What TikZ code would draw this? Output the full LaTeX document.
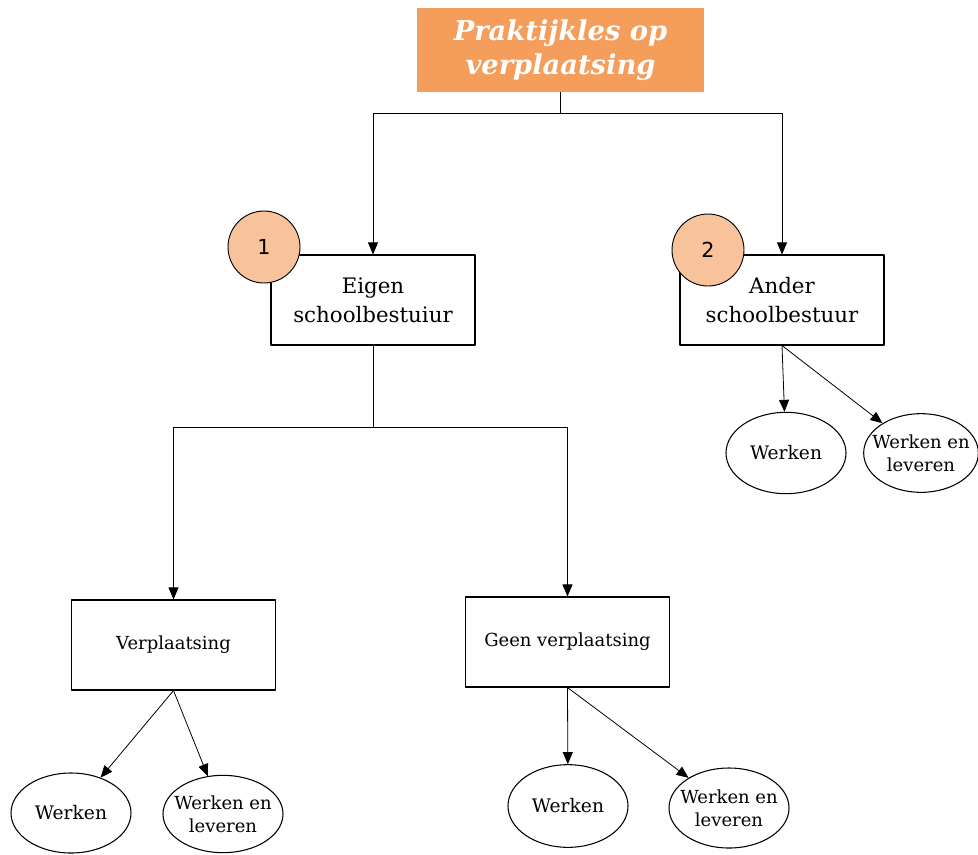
\documentclass[tikz,border=0pt]{standalone}
\usepackage{fontspec}
\setmainfont{DejaVu Serif}
\newfontfamily\badgefont{DejaVu Sans}
\usepackage{xcolor}
\usetikzlibrary{arrows.meta,shapes.geometric}
\definecolor{titleorange}{HTML}{F59E5B}
\definecolor{badgeorange}{HTML}{F8C39B}
\tikzset{
  box/.style={draw,line width=0.8pt,minimum width=153pt,minimum height=67.5pt,inner sep=0pt,align=center},
  oval/.style={ellipse,draw,line width=0.8pt,minimum width=90pt,minimum height=61pt,inner sep=0pt,align=center,font=\fontsize{14}{17}\selectfont},
  ovaltwo/.style={oval,inner xsep=-8pt,inner ysep=-6pt,font=\fontsize{13.5}{17}\selectfont},
  badge/.style={circle,draw,line width=0.7pt,fill=badgeorange,minimum size=54pt,inner sep=0pt,font=\badgefont\fontsize{15.5}{16}\selectfont}
}
\begin{document}
\begin{tikzpicture}
			[line cap=round,line join=round,>={Triangle[length=9pt,width=7.5pt]},x=0.75pt,y=-0.75pt]
			\useasboundingbox (0,0) rectangle (978,854);
			% title
			\node[fill=titleorange,minimum width=215pt,minimum height=63pt,inner sep=0pt,align=center,text=white,font=\bfseries\itshape\fontsize{20.5}{25.5}\selectfont] (title) at (560.5,50) {Praktijkles op\\verplaatsing};
			% second level
			\node[box,font=\fontsize{16}{22}\selectfont] (eigen) at (373,300) {Eigen\\schoolbestuiur};
			\node[box,font=\fontsize{16}{22}\selectfont] (ander) at (782,300) {Ander\\schoolbestuur};
			\node[badge] (one) at (264,247) {1};
			\node[badge] (two) at (708,250) {2};
			% third level
			\node[box,font=\fontsize{13.5}{16}\selectfont] (verpl) at (173.5,645) {Verplaatsing};
			\node[box,font=\fontsize{13.5}{16}\selectfont] (geen) at (567.5,642) {Geen verplaatsing};
			% ovals
			\node[oval] (anderW) at (786,453) {Werken};
			\node[ovaltwo,minimum width=86pt,minimum height=59pt] (anderWL) at (921,453) {Werken en\\leveren};
			\node[oval,minimum height=60pt] (verplW) at (71,813) {Werken};
			\node[ovaltwo,minimum height=58pt] (verplWL) at (223,814) {Werken en\\leveren};
			\node[oval,minimum height=62pt] (geenW) at (568,806) {Werken};
			\node[ovaltwo,minimum height=60pt] (geenWL) at (729,808) {Werken en\\leveren};
			% connectors
			\coordinate (splitA) at (560.5,113);
			\coordinate (splitB) at (373,427);
			\draw [line width=0.6pt] (title.south) -- (splitA);
			\draw [->,line width=0.6pt] (splitA) -| (eigen.north);
			\draw [->,line width=0.6pt] (splitA) -| (ander.north);
			\draw [line width=0.6pt] (eigen.south) -- (splitB);
			\draw [->,line width=0.6pt] (splitB) -| (verpl.north);
			\draw [->,line width=0.6pt] (splitB) -| (geen.north);
			\draw [->,line width=0.6pt] (ander.south) -- (anderW);
			\draw [->,line width=0.6pt] (ander.south) -- (anderWL);
			\draw [->,line width=0.6pt] (verpl.south) -- (verplW);
			\draw [->,line width=0.6pt] (verpl.south) -- (verplWL);
			\draw [->,line width=0.6pt] (geen.south) -- (geenW);
			\draw [->,line width=0.6pt] (geen.south) -- (geenWL);
		\end{tikzpicture}
\end{document}
